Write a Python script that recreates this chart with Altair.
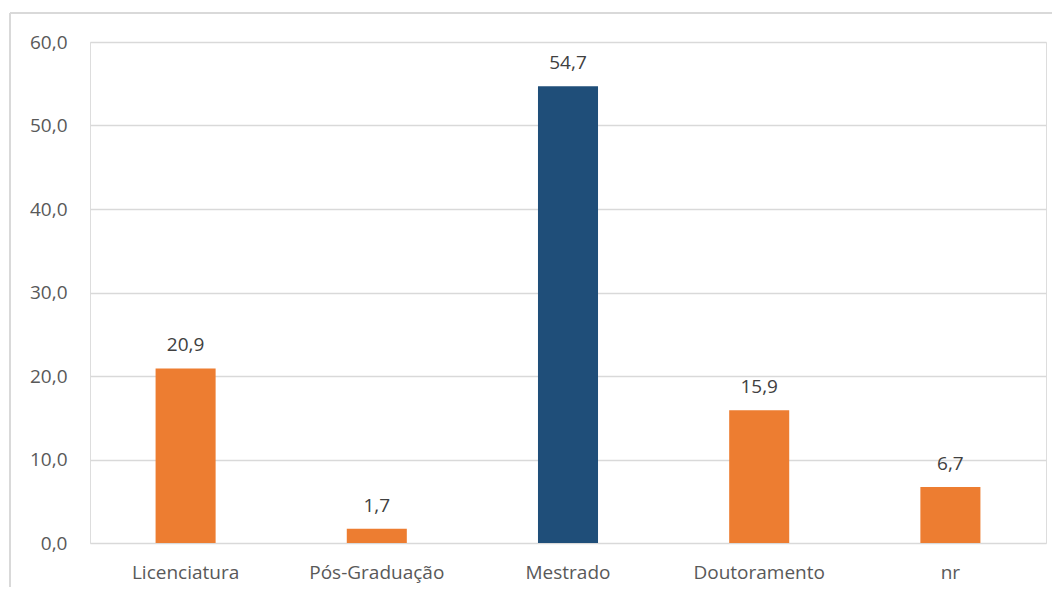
import altair as alt
import pandas as pd

categories = ["Licenciatura", "Pós-Graduação", "Mestrado", "Doutoramento", "nr"]
values = [20.9, 1.7, 54.7, 15.9, 6.7]
highlight = [False, False, True, False, False]

df = pd.DataFrame({"cat": categories, "val": values, "hl": highlight})

FONT = "Open Sans"

base = alt.Chart(df).transform_calculate(
    lbl="replace(format(datum.val, '.1f'), '.', ',')"
)

x_enc = alt.X("cat:N", sort=categories, title=None,
              scale=alt.Scale(paddingInner=0.686, paddingOuter=0.343),
              axis=alt.Axis(labelAngle=0, domain=False, ticks=False, labelPadding=20,
                            labelFontSize=19, labelColor="#595959", labelFont=FONT))
y_enc = alt.Y("val:Q", title=None,
              scale=alt.Scale(domain=[0, 60], nice=False),
              axis=alt.Axis(values=[0, 10, 20, 30, 40, 50, 60], domain=False, ticks=False,
                            labelPadding=23, labelFontSize=19, labelColor="#595959",
                            labelFont=FONT, gridColor="#d9d9d9", gridWidth=1.5,
                            labelExpr="replace(format(datum.value, '.1f'), '.', ',')"))

bars = base.mark_bar().encode(
    x=x_enc, y=y_enc,
    color=alt.Color("hl:N", scale=alt.Scale(domain=[False, True], range=["#ED7D31", "#1F4E79"]), legend=None),
)

labels = base.mark_text(dy=-23, fontSize=19, font=FONT, color="#404040", baseline="middle").encode(
    x=alt.X("cat:N", sort=categories), y="val:Q", text="lbl:N"
)

border = alt.Chart(df).mark_rule(color="#d9d9d9", strokeWidth=1.5).encode(
    x=alt.value(-80), y=alt.value(-29), y2=alt.value(600)
)
border_top = alt.Chart(df).mark_rule(color="#d9d9d9", strokeWidth=1.5).encode(
    x=alt.value(-80), x2=alt.value(1100), y=alt.value(-29)
)

chart = alt.layer(border, border_top, bars, labels).properties(
    width=956, height=501,
    padding={"left": 82, "top": 34, "right": 6, "bottom": 44},
    autosize=alt.AutoSizeParams(type="none"),
).configure_view(stroke=None).configure(background="white")

chart.save("out.html", embed_options={"renderer": "svg", "actions": False})
